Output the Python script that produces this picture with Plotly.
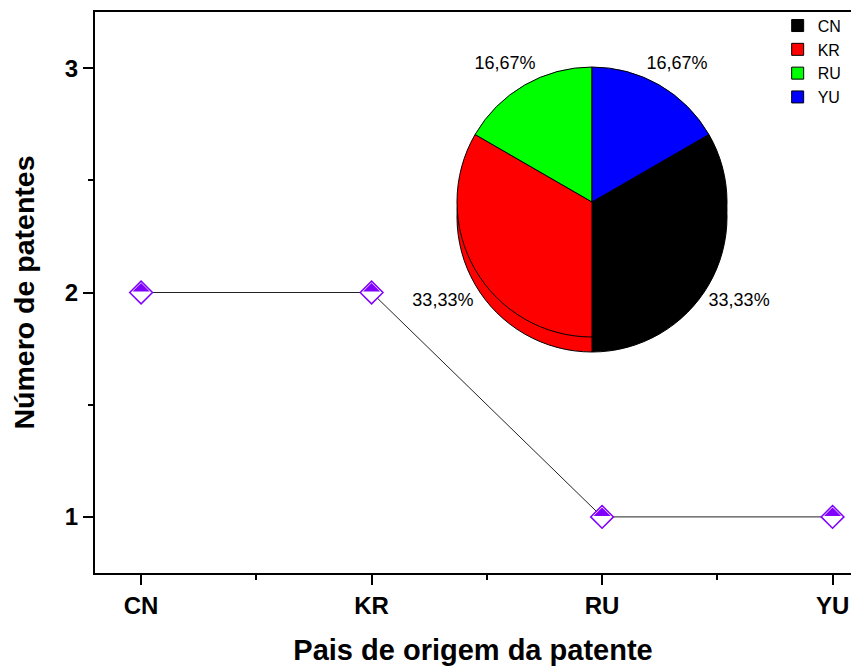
import plotly.graph_objects as go

# ---- data ----
categories = ["CN", "KR", "RU", "YU"]
patents = [2, 2, 1, 1]
pie_colors = ["#000000", "#FF0000", "#00FF00", "#0000FF"]

x_title = "Pais de origem da patente"
y_title = "Número de patentes"

FONT = "Arial, 'Liberation Sans', sans-serif"
PURPLE = "#7F00FF"
positions = list(range(len(categories)))

W, H = 851, 666
ML, MR, MT, MB = 95, 0, 12, 93
plot_w = W - ML - MR
plot_h = H - MT - MB
y_range = [0.75, 3.25]
px_per_unit = plot_h / (y_range[1] - y_range[0])

# marker geometry (half-filled diamond)
dia_size = 17.5
rd = 0.65 * dia_size
tri_r = rd / 1.697
tri_size = 2 * tri_r
shift = 0.566 * tri_r / px_per_unit


def dom(cx, cy, r):
    """pie domain from a centre / radius given in page pixels"""
    x0 = (cx - ML) / plot_w
    y0 = (H - MB - cy) / plot_h
    return dict(x=[x0 - r / plot_w, x0 + r / plot_w], y=[y0 - r / plot_h, y0 + r / plot_h])


fig = go.Figure()

# connecting line
fig.add_trace(go.Scatter(
    x=positions, y=patents, mode="lines",
    line=dict(color="#222222", width=1),
    showlegend=False, hoverinfo="skip"))

# white diamonds with purple outline
fig.add_trace(go.Scatter(
    x=positions, y=patents, mode="markers",
    marker=dict(symbol="diamond", size=dia_size, color="white",
                line=dict(color=PURPLE, width=1.5)),
    showlegend=False))

# purple upper half of diamonds
fig.add_trace(go.Scatter(
    x=positions, y=patents, mode="markers", yaxis="y2",
    marker=dict(symbol="triangle-ne", angle=-45, size=tri_size, color=PURPLE,
                line=dict(width=0)),
    showlegend=False, hoverinfo="skip"))

pie_common = dict(labels=categories, values=patents, sort=False,
                  direction="clockwise", rotation=60)

# pie side (3D depth)
fig.add_trace(go.Pie(
    **pie_common,
    marker=dict(colors=pie_colors, line=dict(color="black", width=1)),
    textinfo="none", showlegend=False, hoverinfo="skip",
    domain=dom(592, 217, 135)))

# pie top
fig.add_trace(go.Pie(
    **pie_common,
    marker=dict(colors=pie_colors, line=dict(color="black", width=1)),
    textinfo="none",
    domain=dom(592, 202, 135)))

# percentage labels (invisible helper pies carrying only the text)
small = min(patents)
label_font = dict(family=FONT, size=18, color="black")
clear = ["rgba(0,0,0,0)"] * len(categories)
fig.add_trace(go.Pie(
    **pie_common,
    marker=dict(colors=clear, line=dict(width=0)),
    texttemplate=["%{percent:.2%}" if v == small else "" for v in patents],
    textposition="outside", outsidetextfont=label_font,
    showlegend=False, hoverinfo="skip",
    domain=dom(591, 158, 101)))
fig.add_trace(go.Pie(
    **pie_common,
    marker=dict(colors=clear, line=dict(width=0)),
    texttemplate=["%{percent:.2%}" if v != small else "" for v in patents],
    textposition="outside", outsidetextfont=label_font,
    showlegend=False, hoverinfo="skip",
    domain=dom(591, 232, 130)))

fig.update_layout(
    width=W, height=H,
    margin=dict(l=ML, r=MR, t=MT, b=MB),
    paper_bgcolor="white", plot_bgcolor="white",
    separators=",.",
    font=dict(family=FONT, color="black"),
    legend=dict(x=0.903, xanchor="left", y=1.006, yanchor="top",
                font=dict(family=FONT, size=16, color="black"),
                bgcolor="rgba(0,0,0,0)", tracegroupgap=0),
    xaxis=dict(
        range=[-0.2, 3.08], tickmode="array", tickvals=positions, ticktext=categories,
        showline=True, linecolor="black", linewidth=2, mirror=True,
        ticks="outside", ticklen=10, tickwidth=2, tickcolor="black",
        minor=dict(tick0=0, dtick=0.5, ticks="outside", ticklen=5, tickwidth=1.5, tickcolor="black"),
        showgrid=False, zeroline=False, automargin=False,
        tickfont=dict(family=FONT, size=24, weight="bold"),
        title=dict(text=x_title, font=dict(family=FONT, size=29, weight="bold"), standoff=23)),
    yaxis=dict(
        range=y_range, tickmode="linear", tick0=0, dtick=1,
        showline=True, linecolor="black", linewidth=2, mirror=False,
        ticks="outside", ticklen=10, tickwidth=2, tickcolor="black",
        minor=dict(tick0=0, dtick=0.5, ticks="outside", ticklen=5, tickwidth=1.5, tickcolor="black"),
        showgrid=False, zeroline=False, automargin=False,
        tickfont=dict(family=FONT, size=24, weight="bold"),
        title=dict(text=y_title, font=dict(family=FONT, size=28.5, weight="bold"), standoff=22)),
    yaxis2=dict(range=[y_range[0] - shift, y_range[1] - shift], overlaying="y",
                visible=False, fixedrange=True),
)

fig.write_html("out.html", config={"displayModeBar": False},
               post_script="document.body.style.margin='0px';")
